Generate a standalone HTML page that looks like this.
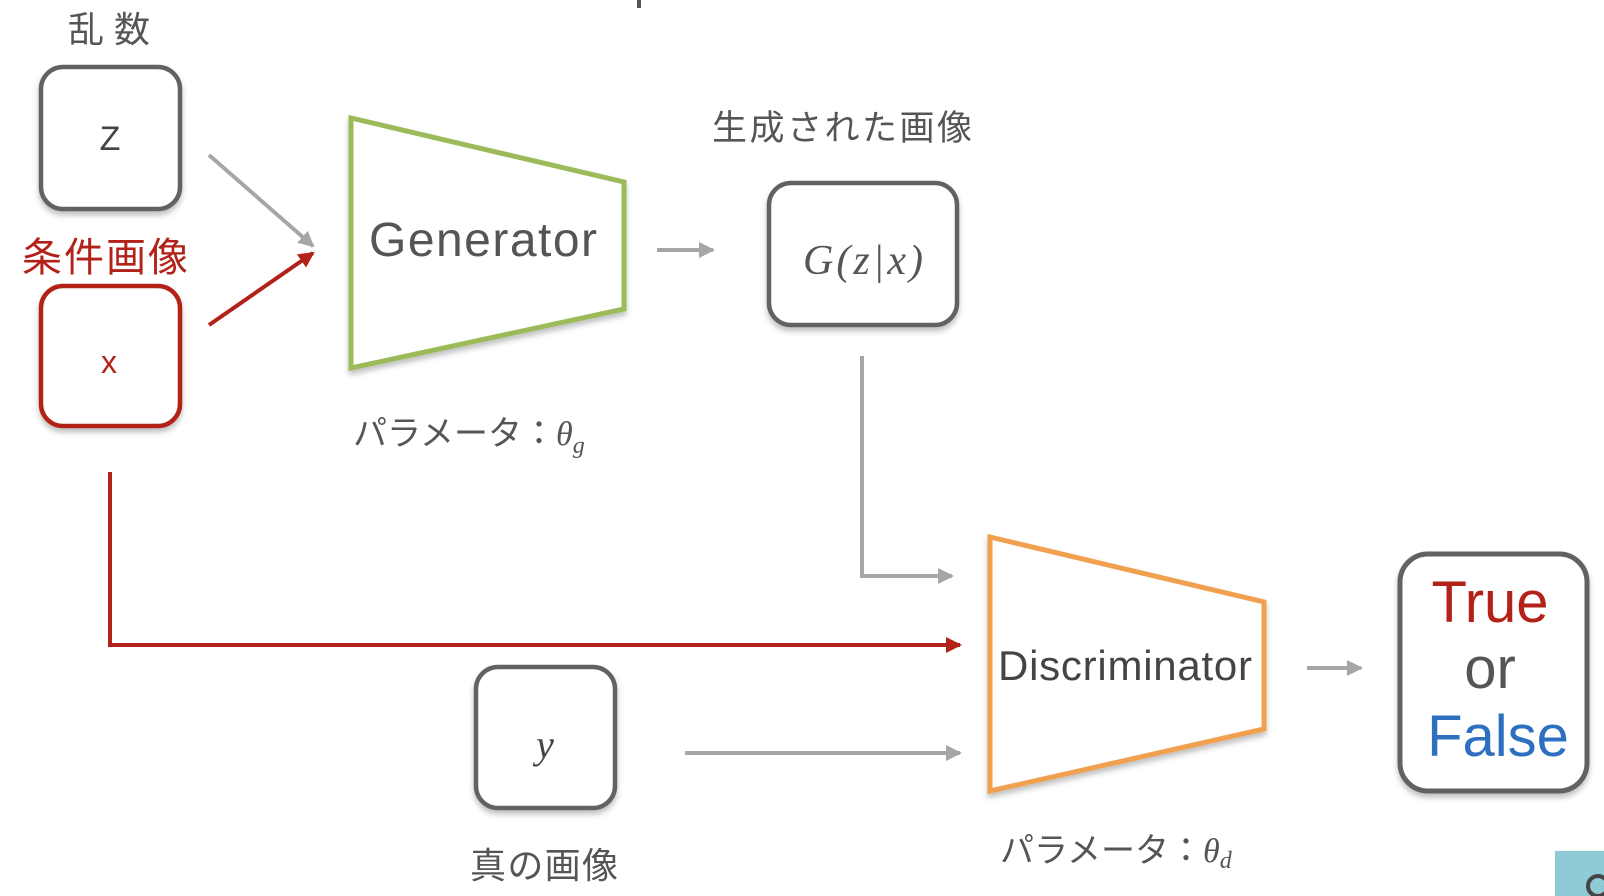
<!DOCTYPE html>
<html><head><meta charset="utf-8"><style>
html,body{margin:0;padding:0;background:#fff;width:1604px;height:896px;overflow:hidden}
svg text{font-family:"Liberation Sans","DejaVu Sans","Noto Sans CJK JP",sans-serif}
</style></head><body>
<svg width="1604" height="896" viewBox="0 0 1604 896" xmlns="http://www.w3.org/2000/svg">
<defs>
<marker id="ar" markerWidth="20" markerHeight="20" refX="14" refY="8" orient="auto" markerUnits="userSpaceOnUse"><path d="M0,0 L16,8 L0,16 z" fill="#b22218"/></marker>
<marker id="ag2" markerWidth="20" markerHeight="20" refX="14" refY="8" orient="auto" markerUnits="userSpaceOnUse"><path d="M0,0 L16,8 L0,16 z" fill="#a6a6a6"/></marker>
<filter id="sh" x="-20%" y="-20%" width="140%" height="140%"><feDropShadow dx="0" dy="4" stdDeviation="3" flood-color="#000" flood-opacity="0.25"/></filter>
</defs>
<rect x="637" y="0" width="4" height="8" fill="#555"/>
<text x="109" y="42" font-size="36" fill="#555" text-anchor="middle" textLength="82">乱数</text>
<rect x="41" y="67" width="139" height="142" rx="22" fill="#fff" stroke="#626262" stroke-width="4.5" filter="url(#sh)"/>
<text x="110" y="150" font-size="34" fill="#444" text-anchor="middle">Z</text>
<text x="105" y="271" font-size="40" fill="#b22218" text-anchor="middle" textLength="166">条件画像</text>
<rect x="41" y="286" width="139" height="140" rx="22" fill="#fff" stroke="#b22218" stroke-width="4.5" filter="url(#sh)"/>
<text x="109" y="373" font-size="32" fill="#b22218" text-anchor="middle">x</text>
<line x1="209" y1="155" x2="313" y2="246" stroke="#a6a6a6" stroke-width="4" marker-end="url(#ag2)"/>
<line x1="209" y1="325" x2="313" y2="253" stroke="#b22218" stroke-width="4" marker-end="url(#ar)"/>
<polygon points="351,118 624,182 624,309 351,368" fill="#fff" stroke="#9bbb59" stroke-width="5" filter="url(#sh)"/>
<text x="483" y="256" font-size="48" fill="#555" text-anchor="middle" textLength="228">Generator</text>
<text x="353" y="445" font-size="34" fill="#555">パラメータ：<tspan style="font-family:'Liberation Serif',serif" font-style="italic">θ</tspan><tspan style="font-family:'Liberation Serif',serif" font-style="italic" font-size="24" dy="8">g</tspan></text>
<line x1="657" y1="250" x2="713" y2="250" stroke="#a6a6a6" stroke-width="4" marker-end="url(#ag2)"/>
<text x="842" y="140" font-size="35" fill="#555" text-anchor="middle" textLength="260">生成された画像</text>
<rect x="769" y="183" width="188" height="142" rx="22" fill="#fff" stroke="#626262" stroke-width="4.5" filter="url(#sh)"/>
<text x="863" y="274" font-size="42" fill="#555" text-anchor="middle" font-style="italic" style="font-family:'Liberation Serif',serif" textLength="120">G(z|x)</text>
<polyline points="862,356 862,576 952,576" fill="none" stroke="#a6a6a6" stroke-width="4" marker-end="url(#ag2)"/>
<polyline points="110,472 110,645 960,645" fill="none" stroke="#b22218" stroke-width="4" marker-end="url(#ar)"/>
<polygon points="990,537 1264,602 1264,729 990,791" fill="#fff" stroke="#f0a050" stroke-width="5" filter="url(#sh)"/>
<text x="1125" y="680" font-size="42" fill="#444" text-anchor="middle" textLength="254">Discriminator</text>
<text x="1000" y="862" font-size="34" fill="#555">パラメータ：<tspan style="font-family:'Liberation Serif',serif" font-style="italic">θ</tspan><tspan style="font-family:'Liberation Serif',serif" font-style="italic" font-size="24" dy="6">d</tspan></text>
<rect x="476" y="667" width="139" height="141" rx="22" fill="#fff" stroke="#626262" stroke-width="4.5" filter="url(#sh)"/>
<text x="545" y="758" font-size="40" fill="#444" text-anchor="middle" font-style="italic" style="font-family:'Liberation Serif',serif">y</text>
<line x1="685" y1="753" x2="960" y2="753" stroke="#a6a6a6" stroke-width="4" marker-end="url(#ag2)"/>
<text x="544" y="878" font-size="36" fill="#555" text-anchor="middle" textLength="148">真の画像</text>
<line x1="1307" y1="668" x2="1361" y2="668" stroke="#a6a6a6" stroke-width="4" marker-end="url(#ag2)"/>
<rect x="1400" y="554" width="187" height="237" rx="28" fill="#fff" stroke="#626262" stroke-width="5" filter="url(#sh)"/>
<text x="1490" y="622" font-size="58" fill="#b22218" text-anchor="middle">True</text>
<text x="1490" y="688" font-size="58" fill="#555" text-anchor="middle">or</text>
<text x="1498" y="756" font-size="58" fill="#2e70c0" text-anchor="middle">False</text>
<rect x="1555" y="851" width="49" height="45" fill="#8fcbd6"/>
<circle cx="1598" cy="886" r="10" fill="none" stroke="#444" stroke-width="4"/>
</svg>
</body></html>
